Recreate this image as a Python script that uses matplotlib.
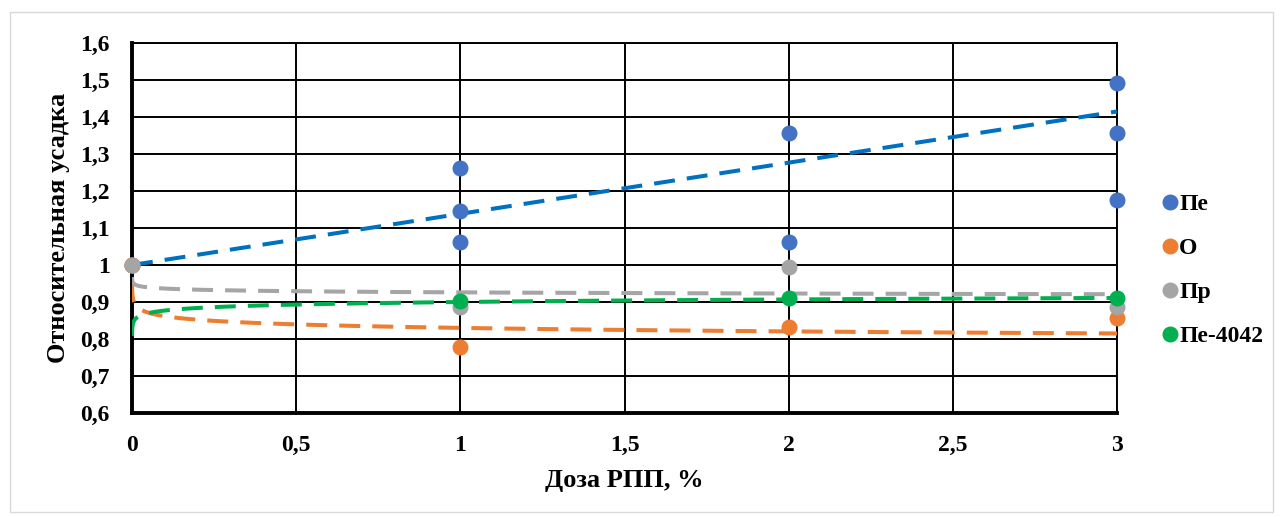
import numpy as np
import matplotlib.pyplot as plt
from matplotlib.patches import Rectangle

plt.rcParams['font.family'] = ['Liberation Serif', 'DejaVu Serif']
plt.rcParams['font.weight'] = 'bold'

# измеренные точки (доза РПП, %)
x_pe = [0, 1, 1, 1, 2, 2, 3, 3, 3]
y_pe = [1.0, 1.261, 1.145, 1.061, 1.358, 1.061, 1.491, 1.358, 1.175]
x_o = [0, 1, 2, 3]
y_o = [1.0, 0.778, 0.832, 0.858]
x_pr = [0, 1, 2, 3]
y_pr = [1.0, 0.886, 0.994, 0.886]
x_pe4042 = [1, 2, 3]
y_pe4042 = [0.902, 0.910, 0.910]

# линии тренда (коэффициенты)
trend_pe = [0.1383, 1.0]        # линейная: k, b
trend_o = [0.83, -0.0137]       # логарифм.: a, b  (y = a + b ln x)
trend_pr = [0.926, -0.0045]
trend_pe4042 = [0.90, 0.0100]

names = ['Пе', 'О', 'Пр', 'Пе-4042']
marker_colors = ['#4472C4', '#ED7D31', '#A5A5A5', '#00B050']
trend_colors = ['#0070C0', '#ED7D31', '#A5A5A5', '#00B050']

fig = plt.figure(figsize=(12.81, 5.17), dpi=100)
fig.patches.append(Rectangle((10/1281, 5/517), 1263/1281, 500/517, transform=fig.transFigure,
                             fill=False, edgecolor='#D9D9D9', linewidth=1))
ax = fig.add_axes([132/1281, 1 - 413/517, 985/1281, 370/517])

xs = [x_pe, x_o, x_pr, x_pe4042]
ys = [y_pe, y_o, y_pr, y_pe4042]
for i in range(4):
    ax.plot(xs[i], ys[i], 'o', color=marker_colors[i], markersize=10.5, label=names[i],
            zorder=4, clip_on=False)

xl = np.linspace(0, 3, 200)
ax.plot(xl, trend_pe[0]*xl + trend_pe[1], '--', color=trend_colors[0], lw=2.9,
        dashes=(5.2, 3.0), zorder=3)
xc = np.concatenate([np.geomspace(1e-4, 0.1, 150), np.linspace(0.1, 3, 200)])
for coef, c in zip([trend_o, trend_pr, trend_pe4042], trend_colors[1:]):
    ax.plot(xc, coef[0] + coef[1]*np.log(xc), '--', color=c, lw=2.9,
            dashes=(5.2, 3.0), zorder=3)

ax.set_xlim(0, 3)
ax.set_ylim(0.6, 1.6)
ax.set_xticks(np.arange(0, 3.01, 0.5))
ax.set_yticks(np.arange(0.6, 1.601, 0.1))
ax.set_xticklabels(['0', '0,5', '1', '1,5', '2', '2,5', '3'])
ax.set_yticklabels(['0,6', '0,7', '0,8', '0,9', '1', '1,1', '1,2', '1,3', '1,4', '1,5', '1,6'])
ax.tick_params(length=0, labelsize=17)
ax.tick_params(axis='x', pad=16)
ax.tick_params(axis='y', pad=16)
ax.grid(True, color='black', linewidth=1.4)
ax.set_axisbelow(True)
for s in ['top', 'right']:
    ax.spines[s].set_linewidth(1.4)
for s in ['left', 'bottom']:
    ax.spines[s].set_linewidth(2.8)

ax.set_xlabel('Доза РПП, %', fontsize=19, fontweight='bold', labelpad=9)
ax.set_ylabel('Относительная усадка', fontsize=19, fontweight='bold', labelpad=7)

leg = ax.legend(loc='center left', bbox_to_anchor=(1.02, 0.385), frameon=False,
                fontsize=17, handletextpad=-0.1, labelspacing=0.95, handlelength=1.0,
                markerscale=1.0)

fig.savefig('out.png', dpi=100)
